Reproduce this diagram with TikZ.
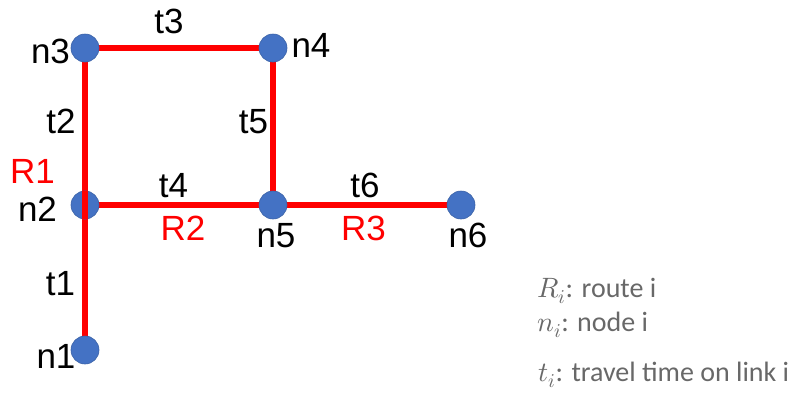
\documentclass[tikz,border=0pt]{standalone}
\usepackage{fontspec}
\usepackage{unicode-math}
\setmainfont{Liberation Sans}
\setmathfont{Latin Modern Math}
\newfontfamily\legendfont{Carlito}
\usetikzlibrary{backgrounds}

\definecolor{nodeblue}{HTML}{4472C4}
\definecolor{routered}{HTML}{FF0000}
\definecolor{legendgray}{HTML}{686868}

\begin{document}
\begin{tikzpicture}[x=1pt,y=-1pt,
  dot/.style={circle,fill=nodeblue,draw=nodeblue!85!black,line width=0.6pt,
              minimum size=28pt,inner sep=0pt},
  link/.style={routered,line width=6pt},
  lbl/.style={anchor=base,inner sep=0pt,font=\fontsize{35}{40}\selectfont},
  rlbl/.style={lbl,text=routered},
  leg/.style={anchor=base west,inner sep=0pt,text=legendgray,
              font=\legendfont\fontsize{28}{32}\selectfont}]
\useasboundingbox (0,0) rectangle (796,394);

% node names
\node[lbl] (l3) at (50.5,63) {n3};
\node[lbl] (l4) at (311,57) {n4};
\node[lbl] (l2) at (37.5,221) {n2};
\node[lbl] (l5) at (276,247) {n5};
\node[lbl] (l6) at (468,247) {n6};
\node[lbl] (l1) at (56,368) {n1};

% link travel times
\node[lbl] (tt3) at (169,33) {t3};
\node[lbl] (tt2) at (61,133) {t2};
\node[lbl] (tt5) at (253.5,133) {t5};
\node[lbl] (tt4) at (173.5,197) {t4};
\node[lbl] (tt6) at (365,197) {t6};
\node[lbl] (tt1) at (60.5,295) {t1};

% routes
\node[rlbl] (r1) at (32.5,183) {R1};
\node[rlbl] (r2) at (183,240) {R2};
\node[rlbl] (r3) at (363.5,240) {R3};

% network nodes
\node[dot] (n3) at (85,48) {};
\node[dot] (n4) at (273,48) {};
\node[dot] (n2) at (85,205) {};
\node[dot] (n5) at (273,205) {};
\node[dot] (n6) at (461,205) {};
\node[dot] (n1) at (85,350) {};

% links
\begin{scope}[on background layer]
  \draw[link] (n3.center) -- (n4.center);
  \draw[link] (n4.center) -- (n5.center);
  \draw[link] (n2.center) -- (n5.center);
  \draw[link] (n5.center) -- (n6.center);
  \draw[link] (n3.center) -- (n1.center);
\end{scope}
% route R1 passes over n2
\draw[link] (n2.north) -- (n2.south);

% legend
\node[leg] (g1) at (537,297) {$R_i$: route i};
\node[leg] (g2) at (537,331) {$n_i$: node i};
\node[leg] (g3) at (538,381) {$t_i$: travel time on link i};
\end{tikzpicture}
\end{document}
